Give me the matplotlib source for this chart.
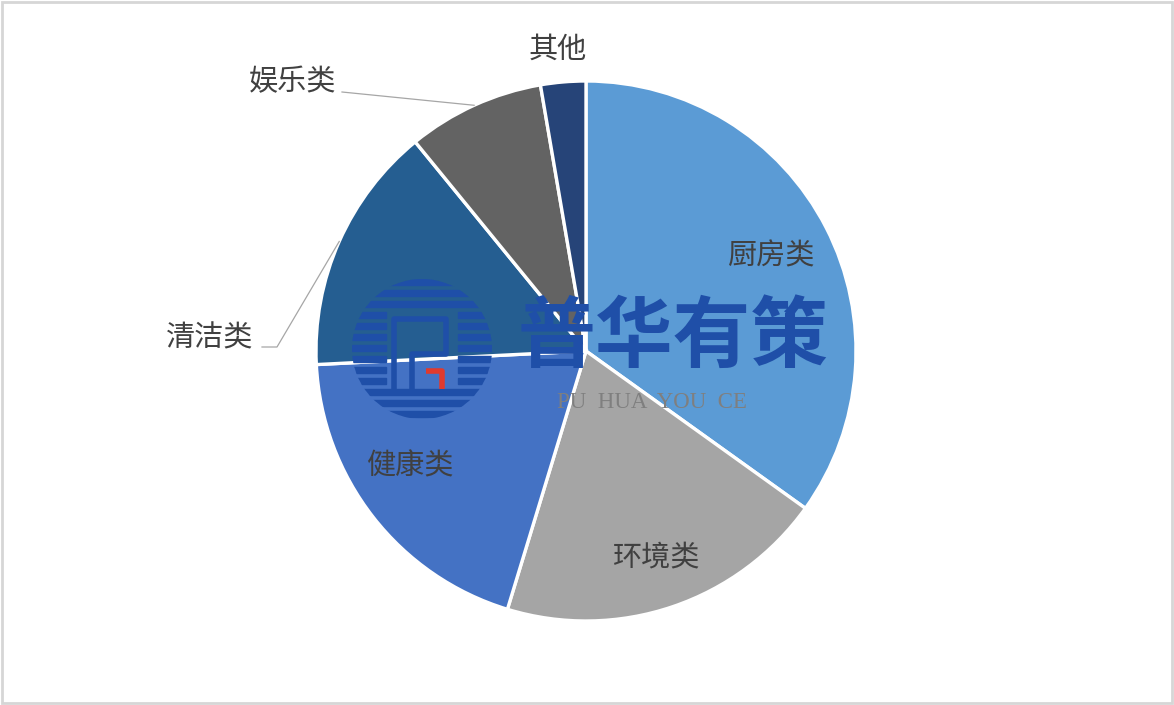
import numpy as np
import matplotlib
matplotlib.use('Agg')
import matplotlib.pyplot as plt
from matplotlib.patches import Circle, Rectangle

plt.rcParams['font.family'] = ['Noto Sans CJK SC', 'DejaVu Sans']

# data (share of each category, %)
labels = ['厨房类', '环境类', '健康类', '清洁类', '娱乐类', '其他']
values = [34.9, 19.8, 19.5, 14.9, 8.2, 2.7]
colors = ['#5B9BD5', '#A5A5A5', '#4472C4', '#255E91', '#636363', '#264478']

W, H = 1174, 705
fig = plt.figure(figsize=(W / 100, H / 100), dpi=100)
ax = fig.add_axes([0, 0, 1, 1])

cx, cy, r = 586, H - 351, 270
wedges, _ = ax.pie(values, colors=colors, startangle=90, counterclock=False,
                   center=(cx, cy), radius=r, frame=True,
                   wedgeprops=dict(edgecolor='white', linewidth=2.4))
ax.set_xlim(0, W)
ax.set_ylim(0, H)
ax.set_aspect('equal')
ax.axis('off')

# light frame around the picture
ax.add_patch(Rectangle((2, 2), W - 4, H - 4, fill=False, edgecolor='#D6D6D6', linewidth=2))

text_color = '#404040'
line_color = '#A6A6A6'
fs = 21


def edge(w):
    a = np.deg2rad((w.theta1 + w.theta2) / 2)
    return cx + r * np.cos(a), cy + r * np.sin(a)


# label centres (pixels from the top-left, as laid out in the reference)
label_pos = [(772, 256), (657, 557), (410, 466), (210, 338), (292, 82), (558, 50)]

for lab, (px, py) in zip(labels, label_pos):
    ax.text(px, H - py, lab, ha='center', va='center', fontsize=fs,
            color=text_color, zorder=6)

# leader for 清洁类 (elbow) and 娱乐类 (straight)
ex, ey = edge(wedges[3])
ax.plot([ex, 277, 262], [ey, H - 347, H - 347], color=line_color, lw=0.9, zorder=1)
ex, ey = edge(wedges[4])
ax.plot([ex, 342], [ey, H - 92], color=line_color, lw=0.9, zorder=1)

# watermark
wm_blue = '#1F4FA8'
lcx, lcy, lr = 422, H - 349, 70
clip = Circle((lcx, lcy), lr, transform=ax.transData)
for yy in np.arange(lcy - lr + 2, lcy + lr, 11):
    if abs(yy + 3 - lcy) < 42:
        segs = [(lcx - lr, lcx - 36), (lcx + 36, lcx + lr)]
    else:
        segs = [(lcx - lr, lcx + lr)]
    for x0, x1 in segs:
        bar = Rectangle((x0, yy), x1 - x0, 6.5, color=wm_blue, zorder=7)
        ax.add_patch(bar)
        bar.set_clip_path(clip)
ax.plot([lcx - 28, lcx - 28, lcx + 24, lcx + 24, lcx - 10, lcx - 10],
        [lcy - 45, lcy + 30, lcy + 30, lcy - 5, lcy - 5, lcy - 45],
        color=wm_blue, lw=4, zorder=8, solid_capstyle='butt')
ax.plot([lcx + 4, lcx + 20, lcx + 20], [lcy - 22, lcy - 22, lcy - 40],
        color='#E03A2E', lw=4, zorder=8, solid_capstyle='butt')
ax.text(673, H - 338, '普华有策', ha='center', va='center', fontsize=56,
        fontweight='bold', color=wm_blue, zorder=8)
ax.text(652, H - 402, 'PU  HUA  YOU  CE', ha='center', va='center',
        fontsize=16.5, family='Liberation Serif', color='#7F7F7F', zorder=8)

fig.savefig('out.png', dpi=100, facecolor='white')
plt.close(fig)
